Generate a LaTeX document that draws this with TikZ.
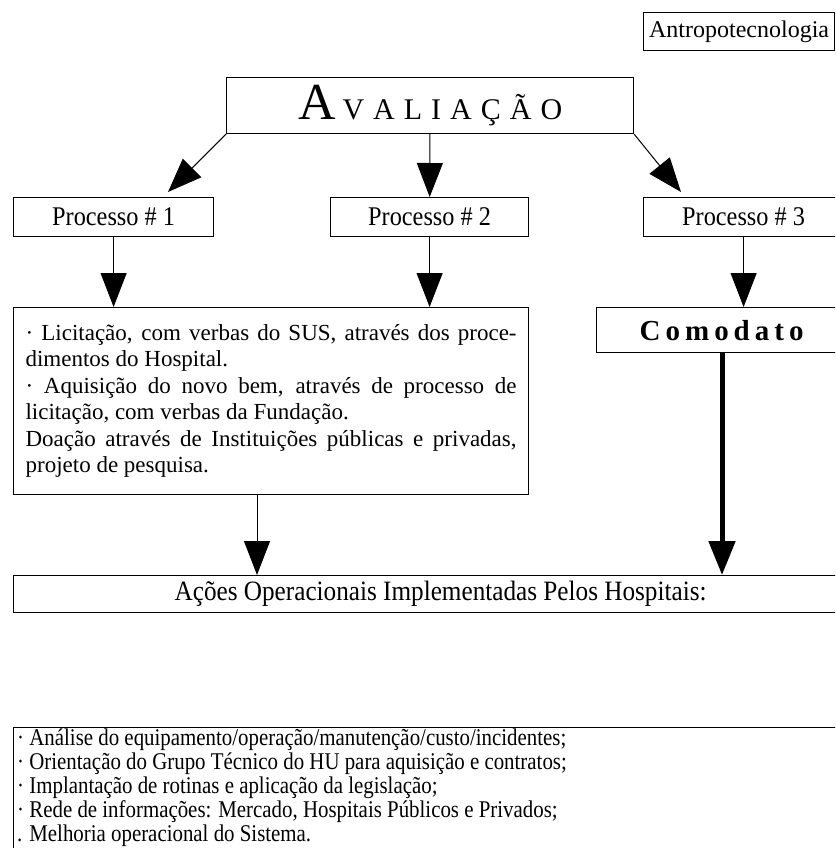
\documentclass[tikz,border=0pt]{standalone}
\usepackage{fontspec}
\setmainfont{Liberation Serif}
\newfontfamily\condfont[FakeStretch=0.9]{Liberation Serif}
\newfontfamily\narrowfont[FakeStretch=0.87]{Liberation Serif}
\usetikzlibrary{arrows.meta}
\setlength{\parindent}{0pt}

\begin{document}
\begin{tikzpicture}[
  x=1pt, y=-1pt,
  box/.style={rectangle, draw, line width=1.2pt, anchor=north west, inner sep=0pt, align=center},
  arrow/.style={-{Triangle[length=34pt,width=26pt]}, line width=1pt},
  bigarrow/.style={-{Triangle[length=34pt,width=26pt]}, line width=5pt},
  every node/.style={font=\fontsize{23}{26.5}\selectfont}
]
\clip (0,0) rectangle (835,848);

% header
\node[box, minimum width=191pt, minimum height=38pt, font=\fontsize{24}{28}\selectfont] (antro) at (643,12) {Antropotecnologia};
\node[box, minimum width=407pt, minimum height=56pt] (aval) at (226,77)
  {{\fontsize{52}{52}\selectfont A}\kern7pt{\fontsize{30}{30}\selectfont V\kern9pt A\kern9pt L\kern9pt I\kern9pt A\kern9pt Ç\kern9pt Ã\kern9pt O}};

% processes
\node[box, minimum width=200pt, minimum height=39pt, font=\condfont\fontsize{27}{30}\selectfont] (p1) at (13,197) {Processo \# 1};
\node[box, minimum width=198pt, minimum height=39pt, font=\condfont\fontsize{27}{30}\selectfont] (p2) at (330,197) {Processo \# 2};
\node[box, minimum width=200pt, minimum height=39pt, font=\condfont\fontsize{27}{30}\selectfont] (p3) at (643,197) {Processo \# 3};

\coordinate (t1) at (168,192);
\coordinate (t3) at (681,192);
\draw[arrow] (aval.south west) -- (t1);
\draw[arrow] (aval) -- (p2);
\draw[arrow] (aval.south east) -- (t3);

% second row
\node[box, text width=491pt, minimum height=187pt, align=justify, inner xsep=12pt, inner ysep=6pt, anchor=north west] (lic) at (13,307)
  {· Licitação, com verbas do SUS, através dos proce-\linebreak dimentos do Hospital.\par
   · Aquisição do novo bem, através de processo de\linebreak licitação, com verbas da Fundação.\par
   Doação através de Instituições públicas e privadas,\linebreak projeto de pesquisa.};
\node[box, minimum width=250pt, minimum height=45pt, font=\bfseries\fontsize{29}{32}\selectfont] (como) at (596,307)
  {C\kern5pt o\kern5pt m\kern5pt o\kern5pt d\kern5pt a\kern5pt t\kern5pt o};

\draw[arrow] (p1) -- (p1 |- lic.north);
\draw[arrow] (p2) -- (p2 |- lic.north);
\draw[arrow] (p3) -- (p3 |- como.north);

% actions
\node[box, minimum width=854pt, minimum height=37pt, font=\condfont\fontsize{28}{30}\selectfont] (acoes) at (13,575)
  {Ações Operacionais Implementadas Pelos Hospitais:};

\coordinate (lic s) at (257,494);
\draw[arrow] (lic s) -- (lic s |- acoes.north);
\draw[bigarrow] (722,352) -- (722,575);

% list
\node[box, minimum width=860pt, minimum height=150pt] (lista) at (13,727) {};
\node[anchor=north west, align=left, inner sep=0pt, font=\narrowfont\fontsize{24}{24}\selectfont] (listatxt) at (17,729)
  {· Análise do equipamento/operação/manutenção/custo/incidentes;\\
   · Orientação do Grupo Técnico do HU para aquisição e contratos;\\
   · Implantação de rotinas e aplicação da legislação;\\
   · Rede de informações: Mercado, Hospitais Públicos e Privados;\\
   . Melhoria operacional do Sistema.};
\end{tikzpicture}
\end{document}
